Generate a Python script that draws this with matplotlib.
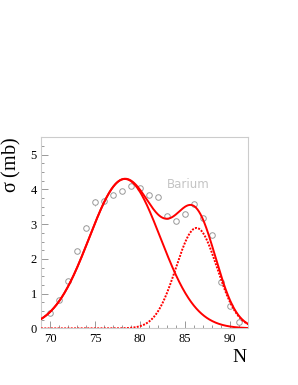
import numpy as np
import matplotlib.pyplot as plt
from matplotlib.ticker import MultipleLocator

n_vals = [70, 71, 72, 73, 74, 75, 76, 77, 78, 79, 80,
          81, 82, 83, 84, 85, 86, 87, 88, 89, 90, 91]
sigma = [0.45, 0.82, 1.37, 2.22, 2.90, 3.63, 3.67, 3.85, 3.95, 4.11, 4.04,
         3.85, 3.78, 3.24, 3.10, 3.29, 3.58, 3.18, 2.70, 1.33, 0.65, 0.17]
sigma_err = [0.05, 0.05, 0.05, 0.06, 0.08, 0.10, 0.07, 0.06, 0.06, 0.06, 0.06,
             0.05, 0.05, 0.05, 0.05, 0.05, 0.06, 0.05, 0.05, 0.05, 0.04, 0.03]

# Two-gaussian fit parameters (amplitude, centre, width)
g1 = [4.30, 78.3, 3.95]
g2 = [2.89, 86.25, 2.27]


def gauss(x, a, mu, s):
    return a * np.exp(-0.5 * ((x - mu) / s) ** 2)


x = np.linspace(69, 92, 400)
y1 = gauss(x, *g1)
y2 = gauss(x, *g2)

fig = plt.figure(figsize=(2.98, 3.85), dpi=100)
ax = fig.add_axes([0.1376, 0.147, 0.6957, 0.4965])

ax.errorbar(n_vals, sigma, yerr=sigma_err, fmt='o', mfc='white', mec='#999999',
            ecolor='#aaaaaa', ms=4, mew=0.7, elinewidth=0.6, capsize=0, zorder=2)
ax.plot(x, y1, color='red', lw=1.4, zorder=3)
ax.plot(x, y2, color='red', lw=1.4, ls=(0, (1, 0.7)), zorder=3)
ax.plot(x, y1 + y2, color='red', lw=1.4, zorder=3)

ax.text(83.0, 4.05, 'Barium', color='#c4c4c4', fontsize=8.5, family='DejaVu Sans')

ax.set_xlim(69, 92)
ax.set_ylim(0, 5.5)
ax.xaxis.set_major_locator(MultipleLocator(5))
ax.xaxis.set_minor_locator(MultipleLocator(1))
ax.yaxis.set_major_locator(MultipleLocator(1))
ax.yaxis.set_minor_locator(MultipleLocator(0.25))
ax.tick_params(which='both', direction='in', top=False, right=False,
               color='#888888', labelsize=9, labelfontfamily='Liberation Serif', pad=3)
ax.tick_params(which='major', length=5, width=0.6)
ax.tick_params(which='minor', length=2.5, width=0.6)
for sp in ax.spines.values():
    sp.set_color('#cccccc')
    sp.set_linewidth(0.8)

fig.text(0.04, 0.645, r'$\mathregular{\sigma}$ (mb)', rotation=90, ha='center', va='top',
         fontsize=14.5, family='Liberation Serif')
fig.text(0.805, 0.072, 'N', ha='center', va='center', fontsize=14, family='Liberation Serif')

fig.savefig('out.png', dpi=100)
